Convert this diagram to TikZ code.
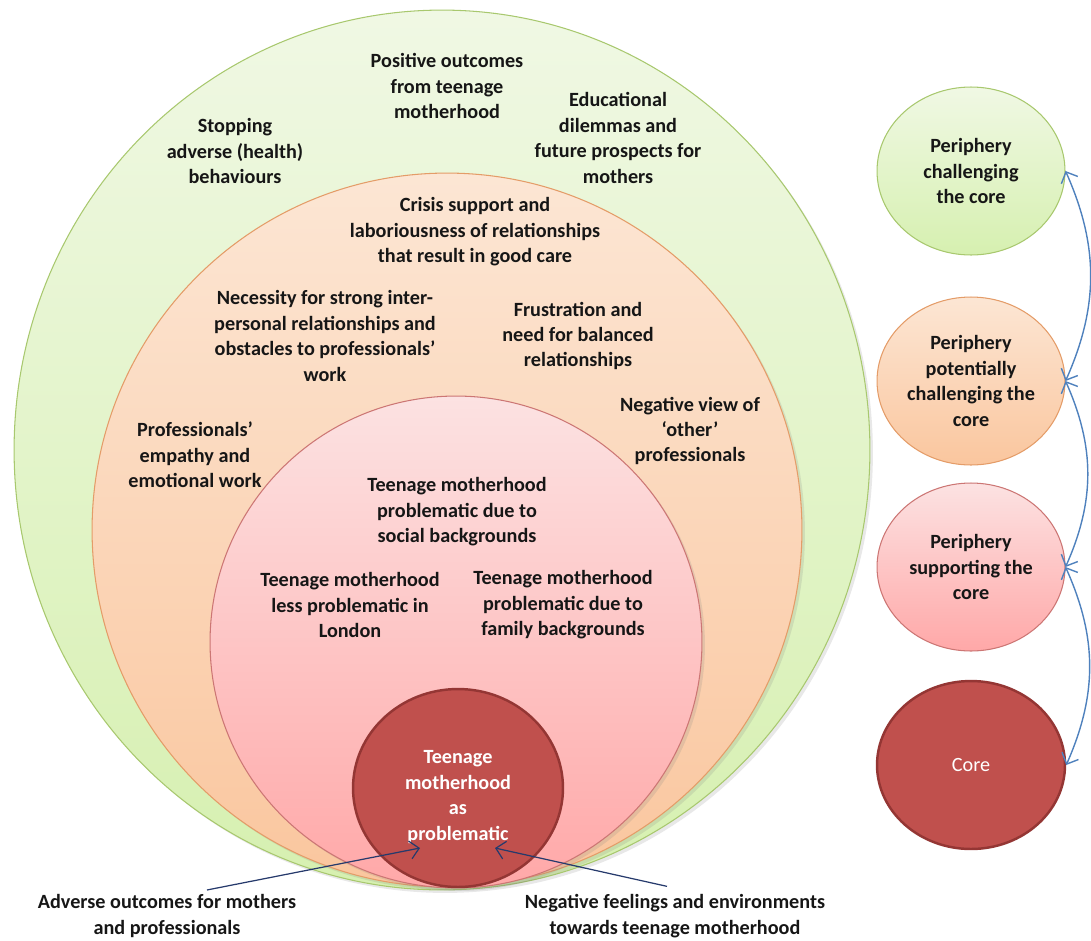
\documentclass[tikz,border=0pt]{standalone}
\usepackage{fontspec}
\setmainfont{Carlito}
\usepackage{tikz}
\usetikzlibrary{shapes.geometric, arrows.meta, positioning, shadows}
\usepackage{xcolor}
\definecolor{challengetop}{RGB}{240,248,228}
\definecolor{challengebot}{RGB}{214,240,176}
\definecolor{challengeline}{RGB}{168,200,110}
\definecolor{potentialtop}{RGB}{252,230,212}
\definecolor{potentialbot}{RGB}{250,198,158}
\definecolor{potentialline}{RGB}{228,156,104}
\definecolor{supporttop}{RGB}{252,226,226}
\definecolor{supportbot}{RGB}{255,168,168}
\definecolor{supportline}{RGB}{204,118,116}
\definecolor{corefill}{RGB}{192,80,77}
\definecolor{coreline}{RGB}{148,54,52}
\definecolor{linkblue}{RGB}{79,129,189}
\definecolor{pointernavy}{RGB}{38,58,108}
\definecolor{themetext}{RGB}{22,22,22}
\tikzstyle{ring} = [ellipse, inner sep=0pt, line width=0.6pt, drop shadow={opacity=0.18, shadow xshift=0.06cm, shadow yshift=-0.06cm}]
\tikzstyle{legend} = [ellipse, inner sep=0pt, line width=0.6pt, minimum width=3.76cm, minimum height=3.36cm, align=center, text=themetext, font=\bfseries\fontsize{11.5}{14.5}\selectfont]
\tikzstyle{theme} = [align=center, inner sep=1pt, text=themetext, font=\bfseries\fontsize{11.5}{14.5}\selectfont]
\tikzstyle{linkarrow} = [<->, >={Straight Barb[length=1.8mm, width=3.6mm]}, linkblue, line width=0.8pt]
\tikzstyle{pointer} = [->, >={Straight Barb[length=1.8mm, width=3.6mm]}, pointernavy, line width=0.7pt]

\begin{document}
\begin{tikzpicture}[x=0.02cm, y=-0.02cm]
\useasboundingbox (0,0) rectangle (1091,940);

% nested rings
\node[ring, draw=challengeline, top color=challengetop, bottom color=challengebot,
      minimum width=17.12cm, minimum height=17.6cm] (challenge) at (442,450) {};
\node[ring, draw=potentialline, top color=potentialtop, bottom color=potentialbot,
      minimum width=14.2cm, minimum height=14.28cm] (potential) at (447,530) {};
\node[ring, draw=supportline, top color=supporttop, bottom color=supportbot,
      minimum width=9.84cm, minimum height=9.84cm] (support) at (456,642) {};
\node[ellipse, draw=coreline, line width=1.4pt, fill=corefill, inner sep=0pt,
      minimum width=4.2cm, minimum height=3.96cm] (core) at (458,788) {};

% outer ring themes
\node[theme] (positive) at (447,86) {Positive outcomes\\from teenage\\motherhood};
\node[theme] (stopping) at (235,151) {Stopping\\adverse (health)\\behaviours};
\node[theme] (educational) at (618,138) {Educational\\dilemmas and\\future prospects for\\mothers};

% middle ring themes
\node[theme] (crisis) at (475,232) {Crisis support and\\laboriousness of relationships\\that result in good care};
\node[theme] (necessity) at (325,336) {Necessity for strong inter-\\personal relationships and\\obstacles to professionals’\\work};
\node[theme] (frustration) at (578,336) {Frustration and\\need for balanced\\relationships};
\node[theme] (otherview) at (690,431) {Negative view of\\‘other’\\professionals};
\node[theme] (empathy) at (195,455) {Professionals’\\empathy and\\emotional work};

% inner ring themes
\node[theme] (social) at (457,512) {Teenage motherhood\\problematic due to\\social backgrounds};
\node[theme] (london) at (350,605) {Teenage motherhood\\less problematic in\\London};
\node[theme] (family) at (563,605) {Teenage motherhood\\problematic due to\\family backgrounds};
\node[theme, text=white] (coretext) at (458,797) {Teenage\\motherhood\\as\\problematic};

% themes below the rings
\node[theme] (adverse) at (167,916) {Adverse outcomes for mothers\\and professionals};
\node[theme] (negative) at (675,916) {Negative feelings and environments\\towards teenage motherhood};
\coordinate (advtip) at (420,848);
\coordinate (negtip) at (495,848);
\draw[pointer] ([xshift=0.8cm, yshift=0.05cm]adverse.north) -- (advtip);
\draw[pointer] ([xshift=-0.16cm, yshift=0.12cm]negative.north) -- (negtip);

% legend
\node[legend, draw=challengeline, top color=challengetop, bottom color=challengebot] (legchallenge) at (971,171) {Periphery\\challenging\\the core};
\node[legend, draw=potentialline, top color=potentialtop, bottom color=potentialbot] (legpotential) at (971,381) {Periphery\\potentially\\challenging the\\core};
\node[legend, draw=supportline, top color=supporttop, bottom color=supportbot] (legsupport) at (971,567) {Periphery\\supporting the\\core};
\node[legend, draw=coreline, line width=1.4pt, fill=corefill, text=white, font=\fontsize{11.5}{14.5}\selectfont] (legcore) at (971,765) {Core};

\draw[linkarrow] (legchallenge.east) to[bend left=24] (legpotential.east);
\draw[linkarrow] (legpotential.east) to[bend left=24] (legsupport.east);
\draw[linkarrow] (legsupport.east) to[bend left=24] (legcore.east);
\end{tikzpicture}
\end{document}
